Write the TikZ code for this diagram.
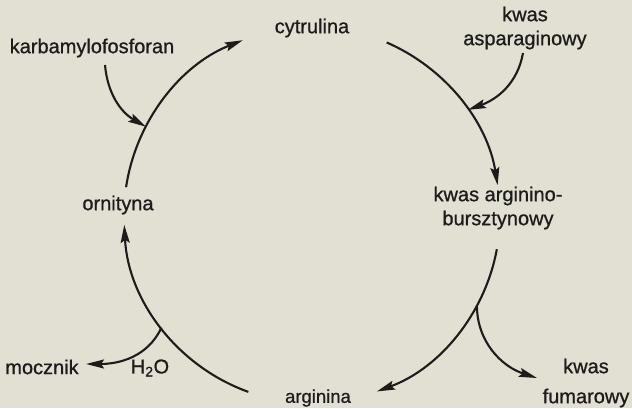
\documentclass[tikz,border=0pt]{standalone}
\usepackage{fontspec}
\setmainfont{Liberation Sans}[FakeBold=0.8]
\usetikzlibrary{arrows.meta,calc}
\definecolor{paper}{RGB}{226,223,211}
\definecolor{ink}{RGB}{30,28,27}

\begin{document}
\begin{tikzpicture}[
    x=1pt, y=1pt,
    every node/.style={font=\fontsize{20}{24}\selectfont, text=ink, inner sep=0pt, align=center},
    flow/.style={draw=ink, line width=2.1pt, -{Stealth[length=18pt,width=9pt,inset=3pt]}}
]
\fill[paper] (0,0) rectangle (632,408);
\useasboundingbox (0,0) rectangle (632,408);

\node (cytrulina) at (312,380) {cytrulina};
\node (karb) at (92,360) {karbamylofosforan};
\node (asp) at (525,380) {kwas\\asparaginowy};
\node (ornityna) at (118,203) {ornityna};
\node (argbur) at (498,200) {kwas arginino-\\bursztynowy};
\node (mocznik) at (42,41) {mocznik};
\node (woda) at (150,40) {H\textsubscript{2}O};
\node[font=\fontsize{18.5}{22}\selectfont] (arginina) at (318,10) {arginina};
\node (fum) at (586,25) {kwas\\[6pt]fumarowy};

\coordinate (c) at (312,193);
\coordinate (orn1) at ($(c)+(171.5:188)$);
\coordinate (cyt1) at ($(c)+(66.6:188)$);
\coordinate (arg1) at ($(c)+(-10.5:188)$);
\coordinate (argn1) at ($(c)+(250.2:188)$);
\coordinate (kj) at ($(c)+(152:188)$);
\coordinate (aj) at ($(c)+(34:188)$);
\coordinate (fj) at ($(c)+(-28.7:188)$);
\coordinate (mj) at ($(c)+(216.8:188)$);
\coordinate (k0) at (105,343);
\coordinate (s0) at (523,355);
\coordinate (f1) at (537,30);
\coordinate (m1) at (86,44);

\draw[flow] (orn1) arc[start angle=171.5, end angle=111.6, radius=188pt];
\draw[flow] (cyt1) arc[start angle=66.6, end angle=9.1, radius=188pt];
\draw[flow] (arg1) arc[start angle=-10.5, end angle=-69.8, radius=188pt];
\draw[flow] (argn1) arc[start angle=250.2, end angle=183, radius=188pt];

\draw[flow] (k0) to[out=-85, in=150] (kj);
\draw[flow] (s0) to[out=-100, in=20] (aj);
\draw[flow] (fj) to[out=-90, in=162] (f1);
\draw[flow] (mj) to[out=-115, in=0] (m1);
\end{tikzpicture}
\end{document}
